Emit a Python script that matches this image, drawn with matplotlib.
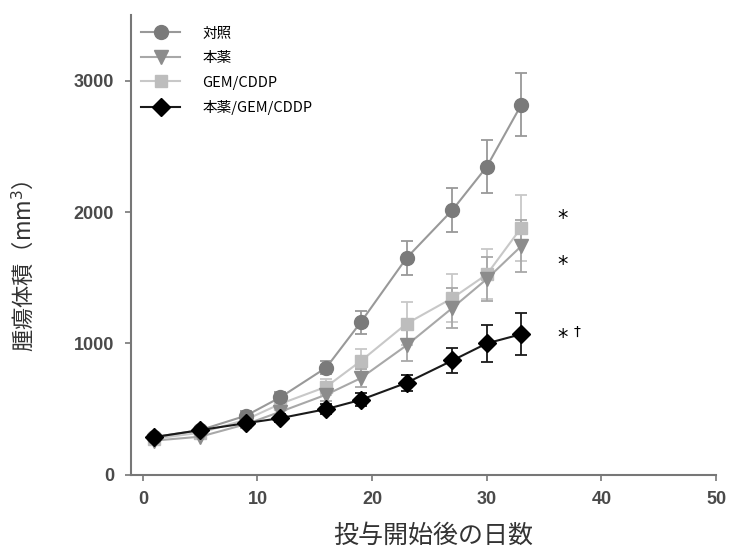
import numpy as np
import matplotlib
matplotlib.use('Agg')
import matplotlib.pyplot as plt

plt.rcParams['font.family'] = ['Noto Sans CJK JP', 'DejaVu Sans']

# データ
days = [1, 5, 9, 12, 16, 19, 23, 27, 30, 33]

control = [287, 340, 450, 590, 816, 1160, 1650, 2015, 2345, 2815]
control_err = [20, 25, 35, 40, 50, 90, 130, 170, 200, 240]

drug = [260, 290, 385, 480, 610, 735, 985, 1270, 1490, 1740]
drug_err = [20, 20, 30, 35, 45, 70, 120, 150, 170, 200]

gem = [275, 320, 420, 540, 670, 865, 1150, 1345, 1525, 1880]
gem_err = [20, 25, 30, 40, 60, 90, 165, 180, 190, 250]

combo = [287, 340, 393, 431, 500, 570, 700, 870, 1000, 1070]
combo_err = [20, 20, 25, 30, 40, 50, 60, 95, 140, 160]

labels = ['対照', '本薬', 'GEM/CDDP', '本薬/GEM/CDDP']
x_ticks = [0, 10, 20, 30, 40, 50]
y_ticks = [0, 1000, 2000, 3000]

fig = plt.figure(figsize=(7.39, 5.54), dpi=100)
ax = fig.add_axes([0.177, 0.143, 0.792, 0.83])

series = [
    (gem, gem_err, 's', '#bdbdbd', '#c8c8c8', 9, labels[2]),
    (drug, drug_err, 'v', '#8c8c8c', '#a8a8a8', 10, labels[1]),
    (control, control_err, 'o', '#7a7a7a', '#999999', 10, labels[0]),
    (combo, combo_err, 'D', '#000000', '#1a1a1a', 9, labels[3]),
]

handles = {}
for vals, err, mk, mc, lc, ms, lab in series:
    ax.errorbar(days, vals, yerr=err, fmt='none', ecolor=lc, elinewidth=1.3,
                capsize=4, capthick=1.3, zorder=2)
    h, = ax.plot(days, vals, color=lc, lw=1.5, marker=mk, markersize=ms,
                 markerfacecolor=mc, markeredgecolor=mc, zorder=3, label=lab)
    handles[lab] = h

leg = ax.legend([handles[l] for l in labels], labels, loc='upper left',
                bbox_to_anchor=(0.0, 0.997), frameon=False,
                handlelength=2.7, handletextpad=1.5, labelspacing=0.72,
                borderaxespad=0.3,
                prop={'family': ['Noto Sans CJK JP', 'DejaVu Sans'], 'size': 10.5})

# 有意差の記号
star_font = {'family': 'DejaVu Sans', 'fontsize': 15, 'color': 'black'}
ax.text(36.6, 1950, '*', ha='center', va='center', **star_font)
ax.text(36.6, 1600, '*', ha='center', va='center', **star_font)
ax.text(36.6, 1040, '*', ha='center', va='center', **star_font)
ax.text(37.9, 1085, '†', fontsize=10, ha='center', va='center', color='black',
        family='DejaVu Sans')

ax.set_xlim(-1.05, 50)
ax.set_ylim(0, 3500)
ax.set_xticks(x_ticks)
ax.set_yticks(y_ticks)
for lbl in ax.get_xticklabels() + ax.get_yticklabels():
    lbl.set_family('Liberation Sans')
    lbl.set_fontweight('bold')
    lbl.set_fontsize(13)
    lbl.set_color('#4a4a4a')

for s in ['top', 'right']:
    ax.spines[s].set_visible(False)
for s in ['left', 'bottom']:
    ax.spines[s].set_color('#777777')
    ax.spines[s].set_linewidth(1.5)
ax.tick_params(axis='both', length=4, width=1.2, color='#777777', pad=8)

ax.set_ylabel('腫瘍体積（mm$^3$）', fontsize=16, color='#333333')
ax.set_xlabel('投与開始後の日数', fontsize=18, color='#333333')
ax.yaxis.set_label_coords(-0.162, 0.454)
ax.xaxis.set_label_coords(0.516, -0.105)

fig.savefig('out.png', dpi=100)
